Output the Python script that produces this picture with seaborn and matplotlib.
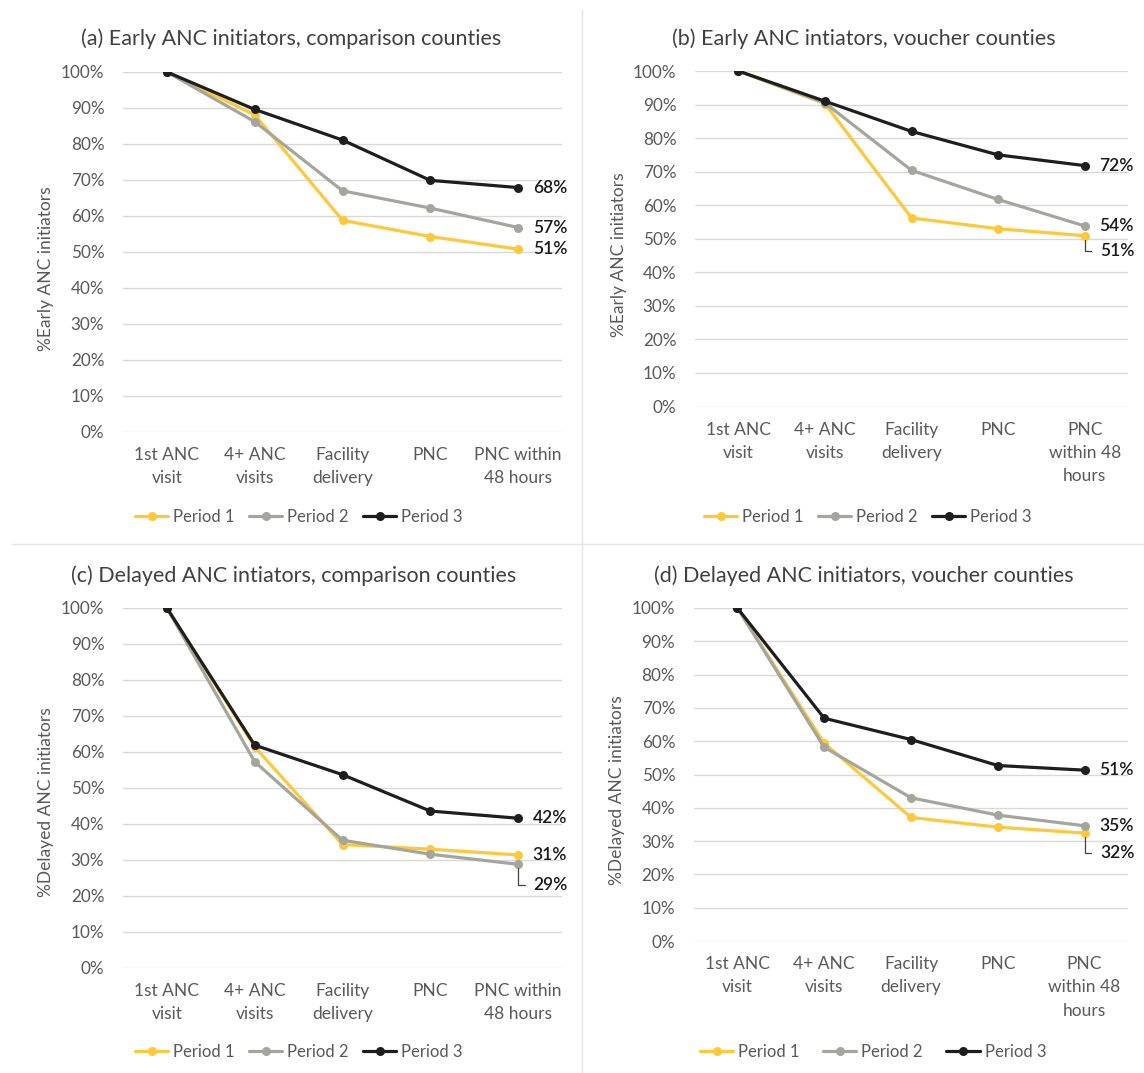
import numpy as np
import pandas as pd
import matplotlib
matplotlib.use("Agg")
import matplotlib.pyplot as plt
from matplotlib.lines import Line2D
import seaborn as sns

# ---- data -------------------------------------------------------------
steps_short = ["1st ANC\nvisit", "4+ ANC\nvisits", "Facility\ndelivery", "PNC", "PNC within\n48 hours"]
steps_tall = ["1st ANC\nvisit", "4+ ANC\nvisits", "Facility\ndelivery", "PNC", "PNC\nwithin 48\nhours"]
periods = ["Period 1", "Period 2", "Period 3"]

a_p1 = [100, 88.1, 58.8, 54.3, 50.8]
a_p2 = [100, 86.2, 67.0, 62.2, 56.8]
a_p3 = [100, 89.6, 81.1, 69.9, 67.9]

b_p1 = [100, 90.3, 56.2, 53.0, 50.9]
b_p2 = [100, 90.5, 70.4, 61.7, 53.8]
b_p3 = [100, 91.0, 82.0, 75.0, 71.8]

c_p1 = [100, 61.4, 34.3, 33.0, 31.4]
c_p2 = [100, 57.3, 35.5, 31.6, 28.8]
c_p3 = [100, 61.9, 53.7, 43.6, 41.6]

d_p1 = [100, 59.4, 37.1, 34.2, 32.4]
d_p2 = [100, 58.2, 43.0, 37.8, 34.6]
d_p3 = [100, 66.9, 60.5, 52.7, 51.3]

titles = [
    "(a) Early ANC initiators, comparison counties",
    "(b) Early ANC intiators, voucher counties",
    "(c) Delayed ANC intiators, comparison counties",
    "(d) Delayed ANC initiators, voucher counties",
]
ylabels = ["%Early ANC initiators", "%Early ANC initiators",
           "%Delayed ANC initiators", "%Delayed ANC initiators"]

# ---- style ------------------------------------------------------------
sns.set_theme(style="white")
plt.rcParams["font.family"] = ["Lato", "DejaVu Sans"]

palette = {"Period 1": "#FFC83A", "Period 2": "#A4A69E", "Period 3": "#1E1E1E"}
grid_c = "#D9D9D9"
tick_c = "#595959"
label_c = "#1A1A1A"

W, H = 1144, 1073
fig = plt.figure(figsize=(W / 100, H / 100), dpi=100)


def px_axes(left, right, top, bottom):
    return fig.add_axes([left / W, 1 - bottom / H, (right - left) / W, (bottom - top) / H])


panels = [
    dict(series=[a_p1, a_p2, a_p3], cats=steps_short, box=(123, 562, 72, 432),
         title_xy=(291, 39), legend_xy=(299, 517), ylab_y=0.455, leader=[0, 0, 0], colsp=0.85),
    dict(series=[b_p1, b_p2, b_p3], cats=steps_tall, box=(695, 1128, 71, 406.5),
         title_xy=(864, 39), legend_xy=(868, 517), ylab_y=0.452, leader=[-15, 0, 0], colsp=0.85),
    dict(series=[c_p1, c_p2, c_p3], cats=steps_short, box=(123, 562, 608, 968),
         title_xy=(294, 576), legend_xy=(299, 1052), ylab_y=0.461, leader=[0, -21, 0], colsp=0.85),
    dict(series=[d_p1, d_p2, d_p3], cats=steps_tall, box=(694, 1128, 608, 941),
         title_xy=(864, 576), legend_xy=(873, 1052), ylab_y=0.453, leader=[-20, 0, 0], colsp=1.4),
]

for i, p in enumerate(panels):
    ax = px_axes(*p["box"])
    rows = []
    for name, vals in zip(periods, p["series"]):
        for k, v in enumerate(vals):
            rows.append({"step": k, "value": v, "period": name})
    df = pd.DataFrame(rows)

    sns.lineplot(data=df, x="step", y="value", hue="period", palette=palette,
                 hue_order=periods, marker="o", markersize=6.5, markeredgewidth=0,
                 linewidth=2.3, sort=False, legend=False, ax=ax, zorder=3)

    ax.set_xlim(-0.5, 4.5)
    ax.set_ylim(0, 100)
    ax.set_yticks(np.arange(0, 101, 10))
    ax.set_yticklabels([f"{t}%" for t in range(0, 101, 10)])
    ax.set_xticks(range(5))
    ax.set_xticklabels(p["cats"], linespacing=1.55)
    ax.tick_params(axis="y", length=0, pad=13.5, labelsize=12.3, labelcolor=tick_c)
    ax.tick_params(axis="x", length=0, pad=11, labelsize=12.5, labelcolor=tick_c)
    ax.grid(axis="y", color=grid_c, linewidth=1.0)
    ax.grid(axis="x", visible=False)
    ax.set_axisbelow(True)
    for s in ax.spines.values():
        s.set_visible(False)
    ax.set_xlabel("")
    ax.set_ylabel(ylabels[i], fontsize=12.5, color=tick_c)
    ax.yaxis.set_label_coords(-0.158, p["ylab_y"])

    # end-point value labels
    for name, vals, dy in zip(periods, p["series"], p["leader"]):
        last = vals[-1]
        if dy == 0:
            ax.annotate(f"{round(last)}%", xy=(4, last), xytext=(10.5, 0),
                        textcoords="offset points", ha="left", va="center",
                        fontsize=12.5, color=label_c, fontweight="semibold")
        else:
            ax.annotate(f"{round(last)}%", xy=(4, last), xytext=(11, dy * 0.72),
                        textcoords="offset points", ha="left", va="center",
                        fontsize=12.5, color=label_c, fontweight="semibold",
                        arrowprops=dict(arrowstyle="-", color="#404040", lw=0.9,
                                        connectionstyle="angle,angleA=0,angleB=90,rad=0",
                                        relpos=(0, 0.5), shrinkA=4, shrinkB=3))

    tx, ty = p["title_xy"]
    fig.text(tx / W, 1 - ty / H, titles[i], ha="center", va="center",
             fontsize=15.5, color="#404040")

    handles = [Line2D([], [], color=palette[n], marker="o", markersize=6.5,
                      markeredgewidth=0, linewidth=2.3) for n in periods]
    lx, ly = p["legend_xy"]
    fig.legend(handles, periods, loc="center", bbox_to_anchor=(lx / W, 1 - ly / H),
               ncol=3, frameon=False, fontsize=12, labelcolor=tick_c,
               handlelength=2.0, handletextpad=0.3, columnspacing=p["colsp"])

# chart-area separators
fig.add_artist(Line2D([582 / W, 582 / W], [0, 1 - 10 / H], color="#E4E4E4", lw=1.0))
fig.add_artist(Line2D([12 / W, 1], [1 - 544 / H, 1 - 544 / H], color="#E4E4E4", lw=1.0))

fig.savefig("out.png", dpi=100, facecolor="white")
